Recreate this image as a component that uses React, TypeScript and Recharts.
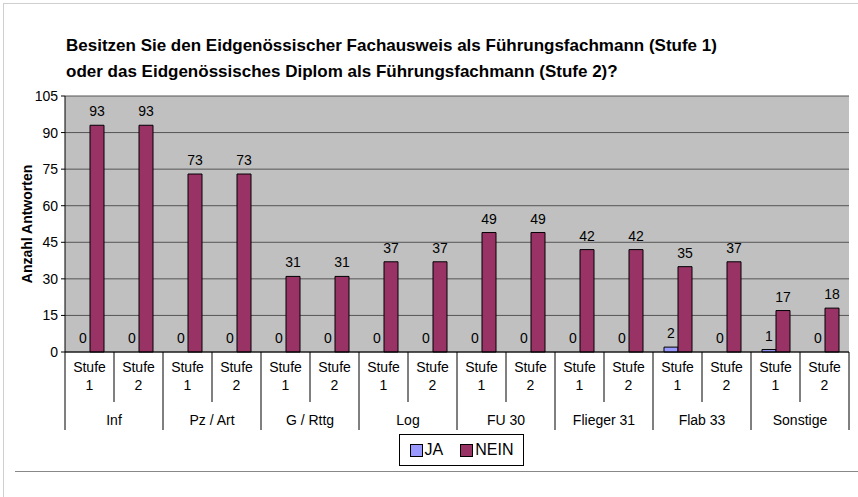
import { BarChart, Bar, XAxis, YAxis, CartesianGrid, LabelList } from 'recharts';

const groups = ['Inf', 'Pz / Art', 'G / Rttg', 'Log', 'FU 30', 'Flieger 31', 'Flab 33', 'Sonstige'];
const stufen = ['Stufe 1', 'Stufe 2'];
const jaValues = [0, 0, 0, 0, 0, 0, 0, 0, 0, 0, 0, 0, 2, 0, 1, 0];
const neinValues = [93, 93, 73, 73, 31, 31, 37, 37, 49, 49, 42, 42, 35, 37, 17, 18];
const yTicks = [0, 15, 30, 45, 60, 75, 90, 105];

const data = jaValues.map((ja, i) => ({
  key: `${groups[Math.floor(i / 2)]}|${stufen[i % 2]}`,
  group: groups[Math.floor(i / 2)],
  stufe: stufen[i % 2],
  JA: ja,
  NEIN: neinValues[i],
}));

const W = 858;
const H = 497;
const PLOT_LEFT = 65;
const PLOT_RIGHT = 849;
const PLOT_TOP = 96;
const PLOT_BOTTOM = 352;
const SLOT = (PLOT_RIGHT - PLOT_LEFT) / data.length;
const BAR = 14;
const FONT = 'Arial, "Liberation Sans", sans-serif';

function CategoryTick(props: any) {
  const { x, index } = props;
  const d = data[index];
  if (!d) return null;
  const top = PLOT_BOTTOM;
  const left = x - SLOT / 2;
  const isGroupStart = index % 2 === 0;
  const [word, num] = d.stufe.split(' ');
  return (
    <g>
      <line x1={left} y1={top} x2={left} y2={isGroupStart ? top + 78 : top + 50} stroke="#000" strokeWidth={1} />
      {index === data.length - 1 && (
        <line x1={left + SLOT} y1={top} x2={left + SLOT} y2={top + 78} stroke="#000" strokeWidth={1} />
      )}
      <text x={x} y={top + 20} textAnchor="middle" fontSize={14} fontFamily={FONT} fill="#000">{word}</text>
      <text x={x} y={top + 38} textAnchor="middle" fontSize={14} fontFamily={FONT} fill="#000">{num}</text>
      {!isGroupStart && (
        <text x={left} y={top + 73} textAnchor="middle" fontSize={14} fontFamily={FONT} fill="#000">{d.group}</text>
      )}
    </g>
  );
}

// JA labels: zero-height bars are not drawn, so place them from the NEIN bar geometry
function JaLabel(props: any) {
  const { x, y, height, index } = props;
  const d = data[index];
  if (!d) return null;
  const bottom = y + height;
  const top = bottom - (height * d.JA) / d.NEIN;
  return (
    <text x={x - BAR / 2} y={top - 9} textAnchor="middle" fontSize={14} fontFamily={FONT} fill="#000">
      {d.JA}
    </text>
  );
}

export default function App() {
  return (
    <div style={{ position: 'relative', width: W, height: H, background: '#fff', fontFamily: FONT }}>
      <style>{'body{margin:0}'}</style>
      <div style={{ position: 'absolute', left: 3, top: 3, width: W - 3, height: 1, background: '#cfcfcf' }} />
      <div style={{ position: 'absolute', left: 3, top: 3, width: 1, height: H - 3, background: '#cfcfcf' }} />
      <div style={{ position: 'absolute', left: 15, top: 471, width: W - 15, height: 1, background: '#888' }} />
      <div style={{ position: 'absolute', left: 66, top: 33, fontSize: 17, fontWeight: 'bold', lineHeight: '26px', color: '#000', whiteSpace: 'nowrap' }}>
        Besitzen Sie den Eidgenössischer Fachausweis als Führungsfachmann (Stufe 1)
        <br />
        oder das Eidgenössisches Diplom als Führungsfachmann (Stufe 2)?
      </div>
      <BarChart
        width={W}
        height={H}
        data={data}
        margin={{ top: PLOT_TOP, right: W - PLOT_RIGHT, bottom: 65, left: 0 }}
        barSize={BAR}
        barGap={0}
        style={{ position: 'absolute', left: 0, top: 0 }}
      >
        <CartesianGrid vertical={false} stroke="#555" fill="#c0c0c0" />
        <XAxis
          dataKey="key"
          interval={0}
          height={80}
          tickLine={false}
          axisLine={{ stroke: '#000' }}
          tick={<CategoryTick />}
        />
        <YAxis
          domain={[0, 105]}
          ticks={yTicks}
          width={PLOT_LEFT}
          tickSize={4}
          tickMargin={3}
          axisLine={{ stroke: '#000' }}
          tickLine={{ stroke: '#000' }}
          tick={{ fontSize: 14, fontFamily: FONT, fill: '#000' }}
          label={{ value: 'Anzahl Antworten', angle: -90, position: 'insideLeft', offset: 27, style: { fontSize: 14, fontWeight: 'bold', fontFamily: FONT, fill: '#000', textAnchor: 'middle' } }}
        />
        <YAxis
          yAxisId="frame"
          orientation="right"
          width={0}
          tick={false}
          tickLine={false}
          axisLine={{ stroke: '#808080' }}
        />
        <Bar dataKey="JA" fill="#9999ff" stroke="#000" strokeWidth={1} isAnimationActive={false} />
        <Bar dataKey="NEIN" fill="#993366" stroke="#000" strokeWidth={1} isAnimationActive={false}>
          <LabelList dataKey="NEIN" position="top" offset={9} fontSize={14} fontFamily={FONT} fill="#000" />
          <LabelList dataKey="JA" content={<JaLabel />} />
        </Bar>
      </BarChart>
      <div style={{ position: 'absolute', left: 399, top: 434, width: 125, height: 32, boxSizing: 'border-box', border: '1px solid #000', display: 'flex', alignItems: 'center', justifyContent: 'center', gap: 17, fontSize: 16, color: '#000' }}>
        <span style={{ display: 'flex', alignItems: 'center', gap: 2 }}>
          <span style={{ width: 11, height: 11, background: '#9999ff', border: '1px solid #000', display: 'inline-block' }} />
          JA
        </span>
        <span style={{ display: 'flex', alignItems: 'center', gap: 2 }}>
          <span style={{ width: 11, height: 11, background: '#993366', border: '1px solid #000', display: 'inline-block' }} />
          NEIN
        </span>
      </div>
    </div>
  );
}
